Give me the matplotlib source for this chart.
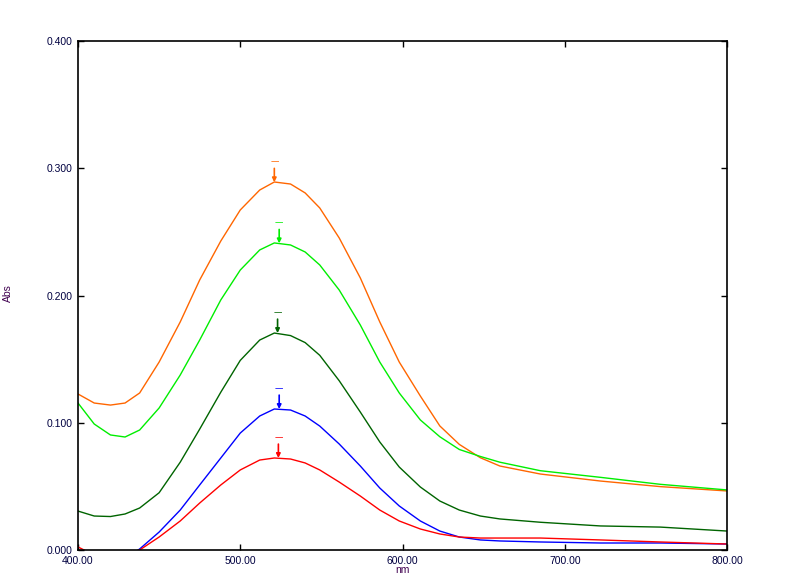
import numpy as np
import matplotlib
matplotlib.use('Agg')
import matplotlib.pyplot as plt

# spectra (nm, Abs)
wl = [400, 410, 420, 429, 438, 450, 463, 475, 488, 500, 512, 521, 531, 540, 549,
      561, 574, 586, 598, 611, 623, 635, 648, 660, 685, 722, 759, 800]

orange_y = [0.1226, 0.1155, 0.1139, 0.1155, 0.1234, 0.1477, 0.1792, 0.2122, 0.2428, 0.2672,
            0.2829, 0.2892, 0.2876, 0.2806, 0.2688, 0.2452, 0.2138, 0.1792, 0.1477, 0.1210,
            0.0975, 0.0830, 0.0725, 0.0660, 0.0597, 0.0542, 0.0498, 0.0464]

lime_y = [0.1155, 0.0990, 0.0904, 0.0888, 0.0943, 0.1116, 0.1375, 0.1650, 0.1965, 0.2200,
          0.2358, 0.2413, 0.2397, 0.2342, 0.2240, 0.2043, 0.1768, 0.1477, 0.1234, 0.1022,
          0.0890, 0.0790, 0.0735, 0.0690, 0.0623, 0.0571, 0.0516, 0.0472]

dgreen_y = [0.0306, 0.0267, 0.0263, 0.0283, 0.0330, 0.0450, 0.0690, 0.0950, 0.1240, 0.1490,
            0.1650, 0.1705, 0.1685, 0.1630, 0.1530, 0.1330, 0.1084, 0.0849, 0.0652, 0.0495,
            0.0385, 0.0314, 0.0267, 0.0244, 0.0218, 0.0189, 0.0180, 0.0149]

blue_y = [-0.030, -0.022, -0.015, -0.007, 0.0008, 0.0141, 0.0314, 0.0511, 0.0723, 0.0919,
          0.1053, 0.1108, 0.1100, 0.1053, 0.0974, 0.0833, 0.0660, 0.0487, 0.0346, 0.0228,
          0.0149, 0.0102, 0.0079, 0.0071, 0.0063, 0.0055, 0.0055, 0.0047]

red_y = [0.0024, -0.004, -0.005, -0.004, 0.0, 0.0102, 0.0228, 0.0369, 0.0511, 0.0629,
         0.0707, 0.0723, 0.0715, 0.0684, 0.0629, 0.0534, 0.0424, 0.0314, 0.0228, 0.0165,
         0.0126, 0.0102, 0.0094, 0.0094, 0.0094, 0.0079, 0.0063, 0.0047]

# peak picks
peak_x = [521, 524, 523, 524, 523.5]
peak_y = [0.289, 0.241, 0.1705, 0.1108, 0.0723]

colors = ['#ff6600', '#00ee00', '#006400', '#0000ff', '#ff0000']
series = [orange_y, lime_y, dgreen_y, blue_y, red_y]

fig = plt.figure(figsize=(8.04, 5.75), dpi=100, facecolor='white')
ax = fig.add_axes([78/804, 25/575, 649/804, 509/575])

for ys, c in zip(series, colors):
  ax.plot(wl, ys, color=c, lw=1.0)

# peak pick markers: short arrow down onto the peak, dash above it
for px, py, c in zip(peak_x, peak_y, colors):
  ax.annotate('', xy=(px, py), xytext=(0, 10), textcoords='offset points',
              arrowprops=dict(arrowstyle='-|>', color=c, lw=1.2,
                              mutation_scale=6, shrinkA=0, shrinkB=0))
  ax.annotate('\u2014', xy=(px, py), xytext=(0, 15), textcoords='offset points',
              ha='center', va='center', color=c, fontsize=6)

ax.set_xlim(400, 800)
ax.set_ylim(0, 0.4)
ax.set_xticks([400, 500, 600, 700, 800])
ax.set_yticks([0, 0.1, 0.2, 0.3, 0.4])
ax.set_xticklabels(['400.00', '500.00', '600.00', '700.00', '800.00'])
ax.set_yticklabels(['0.000', '0.100', '0.200', '0.300', '0.400'])
ax.tick_params(direction='in', length=4, width=1, top=True, right=True,
               labelsize=7.5, colors='black', labelcolor='#000040', pad=4)
for s in ax.spines.values():
  s.set_linewidth(1.2)
for lbl in ax.get_xticklabels() + ax.get_yticklabels():
  lbl.set_family('Liberation Sans')

fig.text(8/804, 1 - 293/575, 'Abs', rotation=90, ha='center', va='center',
         fontsize=7.5, color='#400050', family='Liberation Sans')
fig.text(402/804, 2/575, 'nm', ha='center', va='baseline',
         fontsize=7.5, color='#400050', family='Liberation Sans')

fig.savefig('out.png', dpi=100, facecolor='white')
